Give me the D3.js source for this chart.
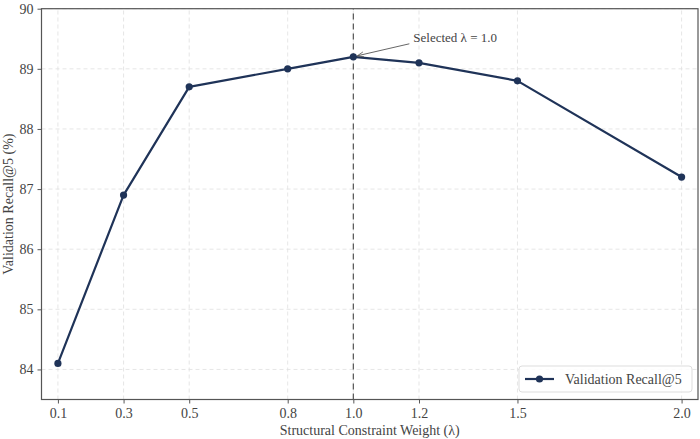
<!DOCTYPE html>
<html>
<head>
<meta charset="utf-8">
<script src="https://cdn.jsdelivr.net/npm/d3@7"></script>
<style>
  body { margin: 0; background: #fff; }
  svg text { font-family: "Liberation Serif", "Times New Roman", Times, serif !important; }
</style>
</head>
<body>
<div id="chart"></div>
<script>
  var lambdas = [0.1, 0.3, 0.5, 0.8, 1.0, 1.2, 1.5, 2.0],
      recall = [84.1, 86.9, 88.7, 89.0, 89.2, 89.1, 88.8, 87.2],
      xTicks = [0.1, 0.3, 0.5, 0.8, 1.0, 1.2, 1.5, 2.0],
      yTicks = [84, 85, 86, 87, 88, 89, 90],
      selected = 1.0;

  var width = 700, height = 439,
      margin = { left: 41.5, right: 2, top: 8.7, bottom: 39.5 },
      navy = "#1f3358",
      serif = "'Liberation Serif', 'Times New Roman', serif";

  var svg = d3.select("#chart").append("svg")
      .attr("width", width)
      .attr("height", height)
      .attr("font-family", serif);

  var x = d3.scaleLinear().domain([0.05, 2.05]).range([margin.left, width - margin.right]);
  var y = d3.scaleLinear().domain([83.5, 90]).range([height - margin.bottom, margin.top]);

  // grid
  var grid = svg.append("g");
  grid.selectAll(".gx").data(xTicks).enter().append("line")
      .attr("x1", function(d) { return x(d); }).attr("x2", function(d) { return x(d); })
      .attr("y1", y.range()[0]).attr("y2", y.range()[1])
      .attr("stroke", "#e0e0e0").attr("stroke-width", 0.8).attr("stroke-dasharray", "4,3");
  grid.selectAll(".gy").data(yTicks).enter().append("line")
      .attr("x1", x.range()[0]).attr("x2", x.range()[1])
      .attr("y1", function(d) { return y(d); }).attr("y2", function(d) { return y(d); })
      .attr("stroke", "#e0e0e0").attr("stroke-width", 0.8).attr("stroke-dasharray", "4,3");

  // selected lambda
  svg.append("line")
      .attr("x1", x(selected)).attr("x2", x(selected))
      .attr("y1", y.range()[0]).attr("y2", y.range()[1])
      .attr("stroke", "#555").attr("stroke-width", 1.2).attr("stroke-dasharray", "6,4");

  // axes
  var xAxis = svg.append("g")
      .attr("transform", "translate(0," + y.range()[0] + ")")
      .call(d3.axisBottom(x).tickValues(xTicks).tickFormat(d3.format(".1f")).tickSize(4).tickPadding(5));
  var yAxis = svg.append("g")
      .attr("transform", "translate(" + x.range()[0] + ",0)")
      .call(d3.axisLeft(y).tickValues(yTicks).tickFormat(d3.format("d")).tickSize(4).tickPadding(4));
  [xAxis, yAxis].forEach(function(a) {
    a.attr("font-family", serif).attr("font-size", 14);
    a.select(".domain").remove();
    a.selectAll("line").attr("stroke", "#555");
    a.selectAll("text").attr("fill", "#444");
  });

  // frame
  svg.append("rect")
      .attr("x", x.range()[0]).attr("y", y.range()[1])
      .attr("width", x.range()[1] - x.range()[0])
      .attr("height", y.range()[0] - y.range()[1])
      .attr("fill", "none").attr("stroke", "#555").attr("stroke-width", 1.2);

  // axis labels
  svg.append("text")
      .attr("x", (x.range()[0] + x.range()[1]) / 2).attr("y", 435)
      .attr("text-anchor", "middle").attr("fill", "#444").attr("font-size", 14)
      .text("Structural Constraint Weight (λ)");
  svg.append("text")
      .attr("transform", "translate(13," + (y.range()[0] + y.range()[1]) / 2 + ") rotate(-90)")
      .attr("text-anchor", "middle").attr("fill", "#444").attr("font-size", 14)
      .text("Validation Recall@5 (%)");

  // series
  var pts = lambdas.map(function(d, i) { return [d, recall[i]]; });
  svg.append("path")
      .datum(pts)
      .attr("fill", "none").attr("stroke", navy).attr("stroke-width", 2.2)
      .attr("stroke-linejoin", "round")
      .attr("d", d3.line().x(function(d) { return x(d[0]); }).y(function(d) { return y(d[1]); }));
  svg.selectAll(".pt").data(pts).enter().append("circle")
      .attr("cx", function(d) { return x(d[0]); })
      .attr("cy", function(d) { return y(d[1]); })
      .attr("r", 3.6).attr("fill", navy);

  // annotation
  var selVal = recall[lambdas.indexOf(selected)];
  svg.append("defs").append("marker")
      .attr("id", "arr").attr("viewBox", "0 0 10 10").attr("refX", 10).attr("refY", 5)
      .attr("markerWidth", 7).attr("markerHeight", 7).attr("orient", "auto")
      .append("path").attr("d", "M0,1 L10,5 L0,9").attr("fill", "none").attr("stroke", "#555").attr("stroke-width", 1.2);
  svg.append("line")
      .attr("x1", x(selected) + 56).attr("y1", y(selVal) - 13)
      .attr("x2", x(selected) + 4).attr("y2", y(selVal) - 1)
      .attr("stroke", "#555").attr("stroke-width", 0.9)
      .attr("marker-end", "url(#arr)");
  svg.append("text")
      .attr("x", x(selected) + 60).attr("y", y(selVal) - 15)
      .attr("fill", "#444").attr("font-size", 13)
      .text("Selected λ = " + selected.toFixed(1));

  // legend
  var lg = svg.append("g").attr("transform", "translate(519,366)");
  lg.append("rect").attr("width", 173).attr("height", 26).attr("rx", 3)
      .attr("fill", "#fff").attr("fill-opacity", 0.85).attr("stroke", "#ddd");
  lg.append("line").attr("x1", 6).attr("x2", 35).attr("y1", 13).attr("y2", 13)
      .attr("stroke", navy).attr("stroke-width", 2.2);
  lg.append("circle").attr("cx", 20.5).attr("cy", 13).attr("r", 3.6).attr("fill", navy);
  lg.append("text").attr("x", 46).attr("y", 18).attr("fill", "#444").attr("font-size", 14)
      .text("Validation Recall@5");
</script>
</body>
</html>
